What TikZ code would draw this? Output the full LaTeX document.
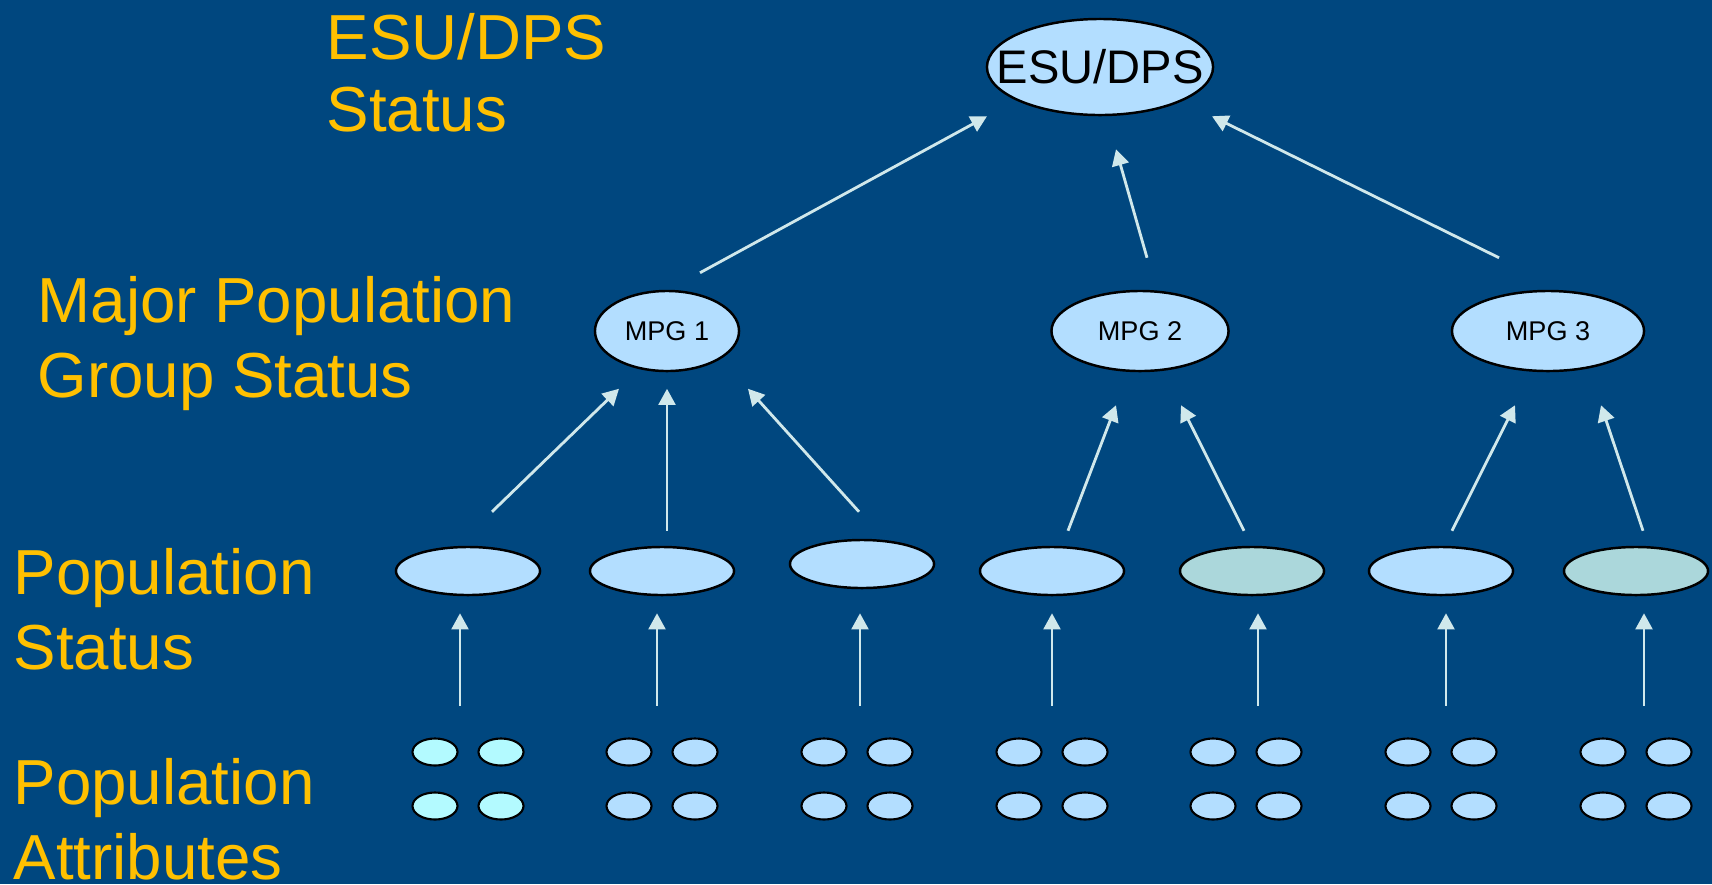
\documentclass[tikz,border=0pt]{standalone}
\usepackage{fontspec}
\setmainfont{Liberation Sans}
\usetikzlibrary{fit, shapes.geometric, arrows.meta}

\definecolor{slidebg}{RGB}{0,71,127}
\definecolor{gold}{RGB}{255,192,0}
\definecolor{lightblue}{RGB}{179,222,255}
\definecolor{paleteal}{RGB}{171,215,219}
\definecolor{palecyan}{RGB}{179,250,255}
\definecolor{arrowgray}{RGB}{208,232,235}

\begin{document}
\begin{tikzpicture}[
        x=0.01cm, y=-0.01cm,
        oval/.style={draw=black, line width=0.7pt, ellipse, fill=lightblue, inner sep=0pt},
        pop/.style={oval, minimum width=1.44cm, minimum height=0.48cm},
        attr/.style={oval, line width=0.6pt, minimum width=0.45cm, minimum height=0.27cm},
        mpg/.style={oval, minimum height=0.8cm, font=\fontsize{7.7}{9}\selectfont},
        level/.style={text=gold, anchor=base west, align=left, inner sep=0pt, font=\fontsize{18.1}{21.3}\selectfont},
        arr/.style={draw=arrowgray, line width=0.8pt, -{Triangle[length=4.6pt, width=4.8pt]}},
        group/.style={inner sep=0pt}
    ]

    \useasboundingbox (0,0) rectangle (1712,884);
    \fill[slidebg] (0,0) rectangle (1712,884);

    \node[level, font=\fontsize{18.1}{20.2}\selectfont] (lesu) at (326,131) {ESU/DPS\\Status};
    \node[level] (lmpg) at (37,397) {Major Population\\Group Status};
    \node[level] (lpop) at (13,669) {Population\\Status};
    \node[level] (lattr) at (13,879) {Population\\Attributes};

    \node[oval, minimum width=2.26cm, minimum height=0.96cm,
          label={[font=\fontsize{13.4}{16}\selectfont]center:ESU/DPS}] (esu) at (1100,67) {};

    \node[mpg, minimum width=1.44cm] (mpg1) at (667,331) {MPG 1};
    \node[mpg, minimum width=1.77cm] (mpg2) at (1140,331) {MPG 2};
    \node[mpg, minimum width=1.92cm] (mpg3) at (1548,331) {MPG 3};

    \node[pop] (pop1) at (468,571) {};
    \node[pop] (pop2) at (662,571) {};
    \node[pop] (pop3) at (862,564) {};
    \node[pop] (pop4) at (1052,571) {};
    \node[pop, fill=paleteal] (pop5) at (1252,571) {};
    \node[pop] (pop6) at (1441,571) {};
    \node[pop, fill=paleteal] (pop7) at (1636,571) {};

    \foreach \g/\cx/\col in {1/468/palecyan, 2/662/lightblue, 3/857/lightblue, 4/1052/lightblue,
                             5/1246/lightblue, 6/1441/lightblue, 7/1636/lightblue} {
        \node[attr, fill=\col] (attr\g-1) at ({\cx-33},752) {};
        \node[attr, fill=\col] (attr\g-2) at ({\cx+33},752) {};
        \node[attr, fill=\col] (attr\g-3) at ({\cx-33},806) {};
        \node[attr, fill=\col] (attr\g-4) at ({\cx+33},806) {};
        \node[group, fit=(attr\g-1)(attr\g-4)] (grp\g) {};
    }

    \draw[arr] ([shift={(-8,-31)}]grp1.north) -- ([shift={(-8,17)}]pop1.south);
    \draw[arr] ([shift={(-5,-31)}]grp2.north) -- ([shift={(-5,17)}]pop2.south);
    \draw[arr] ([shift={(3,-31)}]grp3.north) -- ([shift={(-2,24)}]pop3.south);
    \draw[arr] ([shift={(0,-31)}]grp4.north) -- ([shift={(0,17)}]pop4.south);
    \draw[arr] ([shift={(12,-31)}]grp5.north) -- ([shift={(6,17)}]pop5.south);
    \draw[arr] ([shift={(5,-31)}]grp6.north) -- ([shift={(5,17)}]pop6.south);
    \draw[arr] ([shift={(8,-31)}]grp7.north) -- ([shift={(8,17)}]pop7.south);

    \draw[arr] ([shift={(24,-34)}]pop1.north) -- ([shift={(-48,16.5)}]mpg1.south);
    \draw[arr] ([shift={(5,-15)}]pop2.north) -- ([shift={(0,16.5)}]mpg1.south);
    \draw[arr] ([shift={(-3,-27)}]pop3.north) -- ([shift={(81,16.5)}]mpg1.south);
    \draw[arr] ([shift={(16,-15)}]pop4.north) -- ([shift={(-24,33)}]mpg2.south);
    \draw[arr] ([shift={(-8,-15)}]pop5.north) -- ([shift={(41,33)}]mpg2.south);
    \draw[arr] ([shift={(11,-15)}]pop6.north) -- ([shift={(-33,33)}]mpg3.south);
    \draw[arr] ([shift={(7,-15)}]pop7.north) -- ([shift={(53,33)}]mpg3.south);

    \draw[arr] ([shift={(33,-17)}]mpg1.north) -- ([shift={(-113,0)}]esu.south);
    \draw[arr] ([shift={(7,-32)}]mpg2.north) -- ([shift={(16,33)}]esu.south);
    \draw[arr] ([shift={(-49,-32)}]mpg3.north) -- ([shift={(112,0)}]esu.south);

\end{tikzpicture}
\end{document}
